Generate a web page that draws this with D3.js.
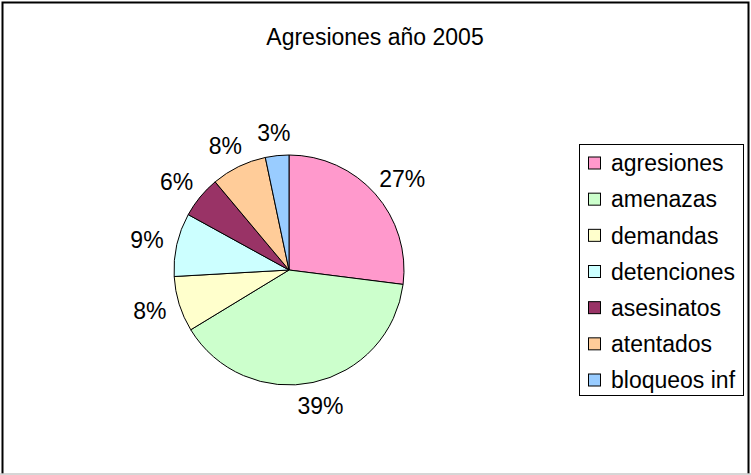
<!DOCTYPE html>
<html>
<head>
<meta charset="utf-8">
<script src="https://cdn.jsdelivr.net/npm/d3@7"></script>
<style>
  body { margin: 0; background: #fff; }
  svg text { font-family: "Liberation Sans", Arial, sans-serif; fill: #000; }
</style>
</head>
<body>
<div id="chart"></div>
<script>
// data (percent of total)
var categories = ["agresiones", "amenazas", "demandas", "detenciones", "asesinatos", "atentados", "bloqueos inf"];
var values = [27.0, 39.3, 7.8, 8.9, 5.9, 7.8, 3.3];
var colors = ["#FF99CC", "#CCFFCC", "#FFFFCC", "#CCFFFF", "#993366", "#FFCC99", "#99CCFF"];
var title = "Agresiones año 2005";

var width = 751, height = 475;
var cx = 289, cy = 270, radius = 115;
var fontSize = 23;

var svg = d3.select("#chart").append("svg")
    .attr("width", width)
    .attr("height", height);

svg.append("rect")
    .attr("width", width).attr("height", height)
    .attr("fill", "#fff");

// frame
svg.append("path")
    .attr("d", "M2.5,474 L2.5,2.5 L748.5,2.5 L748.5,474")
    .attr("fill", "none")
    .attr("stroke", "#000")
    .attr("stroke-width", 2);
svg.append("line")
    .attr("x1", 0).attr("x2", width)
    .attr("y1", 474).attr("y2", 474)
    .attr("stroke", "#c8c8c8")
    .attr("stroke-width", 1.5);

// title
svg.append("text")
    .attr("x", 375)
    .attr("y", 45)
    .attr("text-anchor", "middle")
    .style("font-size", fontSize + "px")
    .text(title);

var data = categories.map((c, i) => ({name: c, value: values[i], color: colors[i]}));
var total = d3.sum(values);

var pie = d3.pie()
    .sort(null)
    .value(d => d.value);

var arc = d3.arc()
    .innerRadius(0)
    .outerRadius(radius);

var g = svg.append("g")
    .attr("transform", "translate(" + cx + "," + cy + ")");

var arcs = pie(data);

g.selectAll("path.slice")
    .data(arcs)
  .enter().append("path")
    .attr("class", "slice")
    .attr("d", arc)
    .attr("fill", d => d.data.color)
    .attr("stroke", "#000")
    .attr("stroke-width", 1);

// percent labels outside the pie
var fmt = d => Math.round(d.data.value / total * 100) + "%";
g.selectAll("text.pct")
    .data(arcs)
  .enter().append("text")
    .attr("class", "pct")
    .attr("text-anchor", "middle")
    .attr("dy", "0.36em")
    .style("font-size", fontSize + "px")
    .attr("transform", function(d) {
        var a = (d.startAngle + d.endAngle) / 2;
        var dx = Math.sin(a), dy = -Math.cos(a);
        var hw = fmt(d).length * fontSize * 0.33, hh = fontSize * 0.36;
        var r = radius + 20;
        var x = dx * r + dx * hw * 0.7;
        var y = dy * r + dy * hh * 0.4;
        return "translate(" + x + "," + y + ")";
    })
    .text(fmt);

// legend
var legX = 579, legY = 144, legW = 164, legH = 251;
var ly = d3.scalePoint()
    .domain(categories)
    .range([163, 380]);

var legend = svg.append("g");
legend.append("rect")
    .attr("x", legX + 0.5).attr("y", legY + 0.5)
    .attr("width", legW).attr("height", legH)
    .attr("fill", "#fff")
    .attr("stroke", "#000")
    .attr("stroke-width", 1);

var items = legend.selectAll("g.item")
    .data(data)
  .enter().append("g")
    .attr("class", "item")
    .attr("transform", d => "translate(0," + ly(d.name) + ")");

items.append("rect")
    .attr("x", 588.5).attr("y", -6)
    .attr("width", 12).attr("height", 12)
    .attr("fill", d => d.color)
    .attr("stroke", "#000")
    .attr("stroke-width", 1);

items.append("text")
    .attr("x", 611)
    .attr("dy", "0.36em")
    .style("font-size", fontSize + "px")
    .text(d => d.name);
</script>
</body>
</html>
